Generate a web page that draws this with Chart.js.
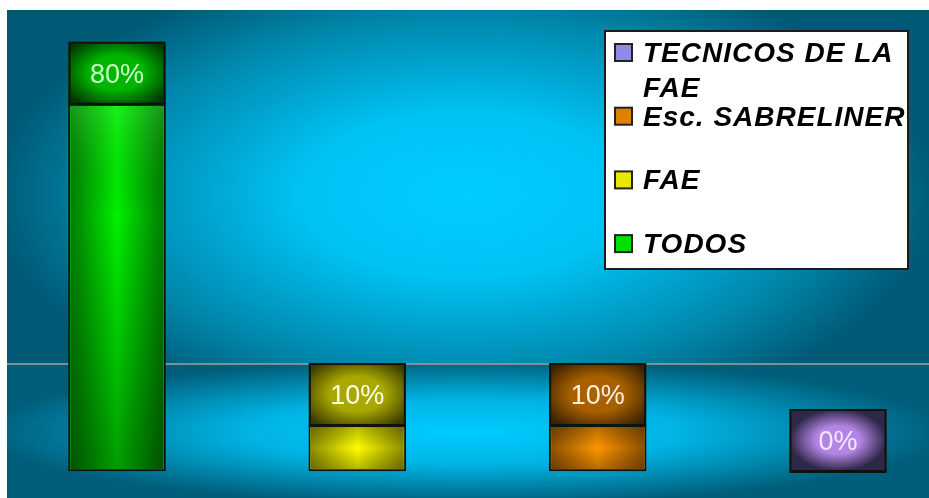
<!DOCTYPE html>
<html>
<head>
<meta charset="utf-8">
<script src="https://cdn.jsdelivr.net/npm/chart.js@4.4.1/dist/chart.umd.min.js"></script>
<style>
  html, body { margin: 0; padding: 0; background: #fff; }
  canvas { display: block; }
</style>
</head>
<body>
<canvas id="chart" width="929" height="498"></canvas>
<script>
// data
const categories = ['TODOS', 'FAE', 'Esc. SABRELINER', 'TECNICOS DE LA FAE'];
const values = [80, 10, 10, 0];
const valueLabels = ['80%', '10%', '10%', '0%'];

// colours per category
const bodyEdge = ['#007800', '#8a8a00', '#8a5000', '#3c3358'];
const bodyCenter = ['#00f000', '#ffff00', '#ff9600', '#9a78d0'];
const capEdge = ['#003800', '#3c3c00', '#3c2200', '#2e2848'];
const capCenter = ['#00b400', '#a8a800', '#a86000', '#b484e4'];
const labelColors = ['#c8ffc8', '#ffffe6', '#fff0dc', '#f4e8ff'];
const swatchColors = ['#00e000', '#e8e800', '#e08000', '#8c8ce8'];

const CAP_H = 62;

const bgPlugin = {
    id: 'bg',
    beforeDraw(chart) {
        const ctx = chart.ctx;
        ctx.save();
        ctx.fillStyle = '#fff';
        ctx.fillRect(0, 0, chart.width, chart.height);

        // upper panel
        ctx.save();
        ctx.beginPath();
        ctx.rect(7, 10, chart.width - 7, 354);
        ctx.clip();
        ctx.fillStyle = '#005a76';
        ctx.fillRect(7, 10, chart.width, 354);
        ctx.translate(465, 195);
        ctx.scale(1, 0.5);
        let g = ctx.createRadialGradient(0, 0, 0, 0, 0, 470);
        g.addColorStop(0, '#00ccff');
        g.addColorStop(0.35, '#00c2f4');
        g.addColorStop(0.75, '#0088ac');
        g.addColorStop(1, '#005a76');
        ctx.fillStyle = g;
        ctx.fillRect(-600, -800, 1200, 1600);
        ctx.restore();

        // lower floor band
        ctx.save();
        ctx.beginPath();
        ctx.rect(7, 364, chart.width - 7, chart.height - 364);
        ctx.clip();
        ctx.fillStyle = '#005e7a';
        ctx.fillRect(7, 364, chart.width, chart.height);
        ctx.translate(465, 432);
        ctx.scale(1, 0.15);
        g = ctx.createRadialGradient(0, 0, 0, 0, 0, 480);
        g.addColorStop(0, '#00ccff');
        g.addColorStop(0.45, '#00b4e4');
        g.addColorStop(1, '#005e7a');
        ctx.fillStyle = g;
        ctx.fillRect(-600, -1200, 1200, 2400);
        ctx.restore();

        ctx.restore();
    },
    beforeDatasetsDraw(chart) {
        const ctx = chart.ctx;
        ctx.save();
        ctx.strokeStyle = '#7e9096';
        ctx.lineWidth = 2;
        ctx.beginPath();
        ctx.moveTo(7, 364);
        ctx.lineTo(chart.width, 364);
        ctx.stroke();
        ctx.restore();
    }
};

function pyramidFill(ctx, x, y, w, h, edge, center, spread) {
    ctx.save();
    ctx.beginPath();
    ctx.rect(x, y, w, h);
    ctx.clip();
    ctx.fillStyle = edge;
    ctx.fillRect(x, y, w, h);
    const s = h / w;
    ctx.translate(x + w / 2, y + h / 2);
    ctx.scale(1, s);
    const g = ctx.createRadialGradient(0, 0, 0, 0, 0, w * spread);
    g.addColorStop(0, center);
    g.addColorStop(0.45, center);
    g.addColorStop(1, edge);
    ctx.fillStyle = g;
    ctx.fillRect(-w, -h / s, 2 * w, 2 * h / s);
    ctx.restore();
}

const capPlugin = {
    id: 'caps',
    afterDatasetsDraw(chart) {
        const ctx = chart.ctx;
        const meta = chart.getDatasetMeta(0);
        meta.data.forEach((bar, i) => {
            const p = bar.getProps(['x', 'y', 'base', 'width'], true);
            const left = p.x - p.width / 2;
            const w = p.width;
            const bodyH = p.base - p.y;

            // shaded bar body
            if (bodyH > 4) {
                ctx.save();
                const hg = ctx.createLinearGradient(left, 0, left + w, 0);
                hg.addColorStop(0, bodyEdge[i]);
                hg.addColorStop(0.5, bodyCenter[i]);
                hg.addColorStop(1, bodyEdge[i]);
                ctx.fillStyle = hg;
                ctx.fillRect(left + 2, p.y + 2, w - 4, bodyH - 4);
                const v = ctx.createLinearGradient(0, p.y, 0, p.base);
                if (bodyH > 100) {
                    v.addColorStop(0, 'rgba(140,255,140,0.2)');
                    v.addColorStop(0.3, 'rgba(0,0,0,0)');
                    v.addColorStop(1, 'rgba(0,0,0,0.35)');
                } else {
                    v.addColorStop(0, 'rgba(0,0,0,0.3)');
                    v.addColorStop(0.5, 'rgba(0,0,0,0)');
                    v.addColorStop(1, 'rgba(0,0,0,0.3)');
                }
                ctx.fillStyle = v;
                ctx.fillRect(left + 2, p.y + 2, w - 4, bodyH - 4);
                ctx.restore();
            }

            // label cap on top of the bar
            const top = p.y - CAP_H;
            pyramidFill(ctx, left, top, w, CAP_H, capEdge[i], capCenter[i], i === 3 ? 0.5 : 0.62);
            ctx.save();
            ctx.strokeStyle = '#0c140c';
            ctx.lineWidth = 2;
            ctx.strokeRect(left + 1, top + 1, w - 2, CAP_H);
            ctx.beginPath();
            ctx.moveTo(left, p.y);
            ctx.lineTo(left + w, p.y);
            ctx.stroke();

            ctx.fillStyle = labelColors[i];
            ctx.font = '27px "Liberation Sans", Arial, sans-serif';
            ctx.textAlign = 'center';
            ctx.textBaseline = 'alphabetic';
            ctx.fillText(valueLabels[i], p.x, top + CAP_H / 2 + 10);
            ctx.restore();
        });
    }
};

function wrapText(ctx, text, maxW) {
    const words = text.split(' ');
    const lines = [];
    let line = '';
    words.forEach(word => {
        const test = line ? line + ' ' + word : word;
        if (line && ctx.measureText(test).width > maxW) {
            lines.push(line);
            line = word;
        } else {
            line = test;
        }
    });
    lines.push(line);
    return lines;
}

const legendPlugin = {
    id: 'boxLegend',
    afterDraw(chart) {
        const ctx = chart.ctx;
        ctx.save();
        ctx.fillStyle = '#fff';
        ctx.fillRect(604, 30, 304, 239);
        ctx.strokeStyle = '#1c1c1c';
        ctx.lineWidth = 2;
        ctx.strokeRect(605, 31, 303, 238);

        ctx.font = 'italic bold 28px "Liberation Sans", Arial, sans-serif';
        ctx.letterSpacing = '1px';
        ctx.textAlign = 'left';
        ctx.textBaseline = 'alphabetic';
        const order = categories.map((c, i) => i).reverse();
        order.forEach((idx, row) => {
            const baseline = 62 + row * 63.7;
            ctx.fillStyle = swatchColors[idx];
            ctx.fillRect(615, baseline - 18, 17, 17);
            ctx.strokeStyle = '#222';
            ctx.lineWidth = 2;
            ctx.strokeRect(615, baseline - 18, 17, 17);
            ctx.fillStyle = '#000';
            const lines = wrapText(ctx, categories[idx], 268);
            lines.forEach((ln, k) => ctx.fillText(ln, 643, baseline + k * 35));
        });
        ctx.restore();
    }
};

const ctx = document.getElementById('chart');
new Chart(ctx, {
    type: 'bar',
    data: {
        labels: categories,
        datasets: [{
            data: values,
            barThickness: 97,
            backgroundColor: bodyCenter,
            borderColor: '#0c140c',
            borderWidth: 2,
            borderSkipped: false,
            clip: false
        }]
    },
    options: {
        responsive: false,
        animation: false,
        layout: {
            padding: { left: 117, right: 91, top: 12, bottom: 27 }
        },
        scales: {
            x: { display: false, offset: false },
            y: { display: false, min: 0, max: 100 }
        },
        plugins: {
            legend: { display: false },
            tooltip: { enabled: false }
        }
    },
    plugins: [bgPlugin, capPlugin, legendPlugin]
});
</script>
</body>
</html>
